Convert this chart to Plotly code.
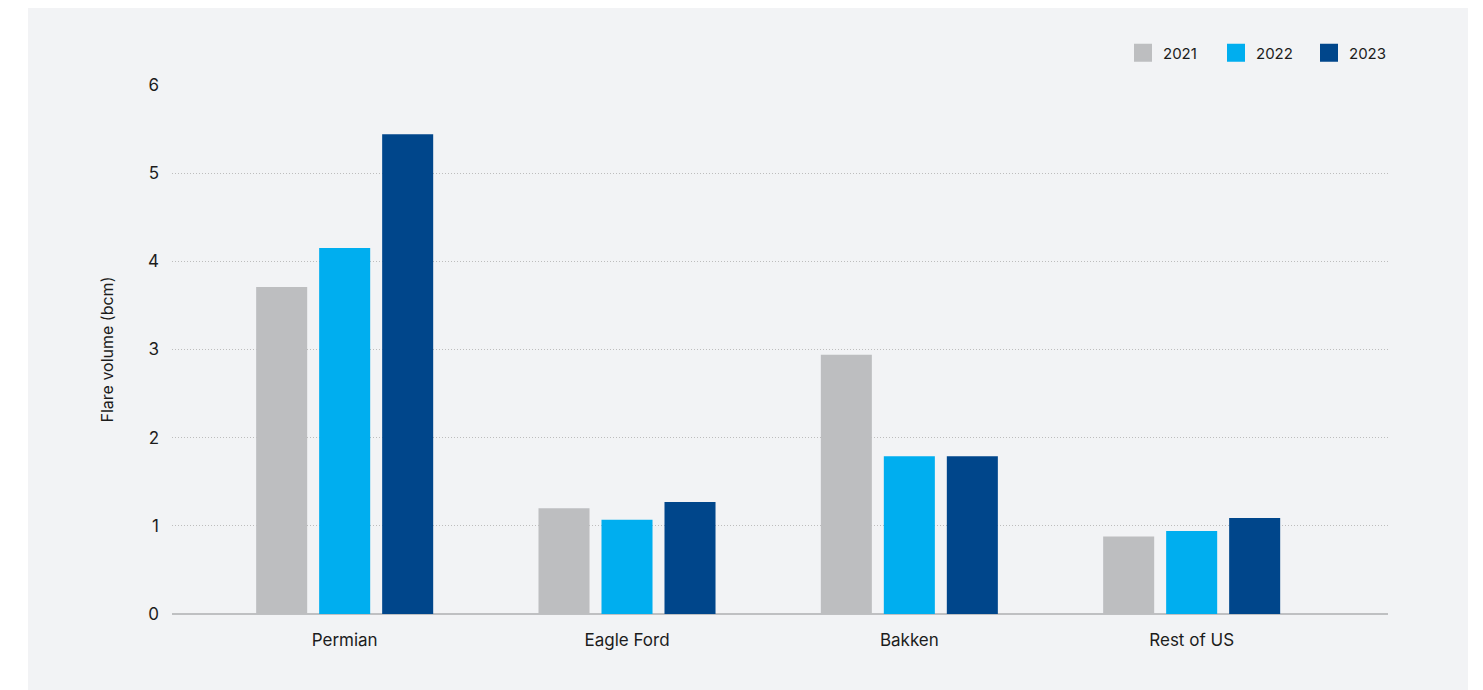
import plotly.graph_objects as go

categories = ["Permian", "Eagle Ford", "Bakken", "Rest of US"]
years = ["2021", "2022", "2023"]
values_2021 = [3.71, 1.20, 2.94, 0.88]
values_2022 = [4.15, 1.07, 1.79, 0.94]
values_2023 = [5.44, 1.27, 1.79, 1.09]
colors = ["#bdbec0", "#00aeef", "#00468b"]
y_ticks = [0, 1, 2, 3, 4, 5, 6]

FONT = "Inter, Lato, sans-serif"
TXT = "#1c1c1c"

fig = go.Figure()
for name, vals, col in zip(years, [values_2021, values_2022, values_2023], colors):
    fig.add_trace(go.Bar(name=name, x=categories, y=vals, showlegend=False,
                         marker=dict(color=col, line=dict(width=0))))
# legend entries (square swatches)
for name, col in zip(years, colors):
    fig.add_trace(go.Scatter(name=name, x=[None], y=[None], mode="markers",
                             marker=dict(symbol="square", size=16, color=col,
                                         line=dict(width=2, color=col)),
                             showlegend=True, hoverinfo="skip"))

# page body adds an 8px offset; figure coordinates below account for it
W, H = 1475, 682
ml, mr, mt, mb = 164, 95, 77, 76
pw, ph = W - ml - mr, H - mt - mb

def px(x):
    return (x - ml) / pw

def py(y):
    return (H - mb - y) / ph

fig.add_shape(type="rect", xref="paper", yref="paper",
              x0=px(20), x1=px(1460), y0=py(700), y1=py(-3),
              fillcolor="#f2f3f5", line=dict(width=0), layer="below")

fig.update_layout(
    width=W, height=H,
    margin=dict(l=ml, r=mr, t=mt, b=mb, pad=0),
    paper_bgcolor="white", plot_bgcolor="rgba(0,0,0,0)",
    barmode="group", bargap=0.3306, bargroupgap=0.19,
    font=dict(family=FONT, size=15, color=TXT),
    showlegend=True,
    legend=dict(orientation="h", x=px(1394), xanchor="right", y=py(45), yanchor="middle",
                bgcolor="rgba(0,0,0,0)", font=dict(size=15, color=TXT),
                traceorder="normal", entrywidth=48, entrywidthmode="pixels"),
    xaxis=dict(type="category", range=[-0.6116, 3.6954], showgrid=False, showline=False,
               ticks="", ticklabelstandoff=14, tickfont=dict(size=17, color=TXT)),
    yaxis=dict(range=[0, 6], tickvals=y_ticks, showgrid=True, gridcolor="#bdbdbd",
               griddash="1px,2px", gridwidth=1, zeroline=True, zerolinecolor="#bfc0c2",
               zerolinewidth=2, showline=False, ticks="", ticklabelstandoff=12,
               tickfont=dict(size=17, color=TXT),
               title=dict(text="Flare volume (bcm)", font=dict(size=16, color=TXT), standoff=30)),
)

fig.write_html("out.html")
